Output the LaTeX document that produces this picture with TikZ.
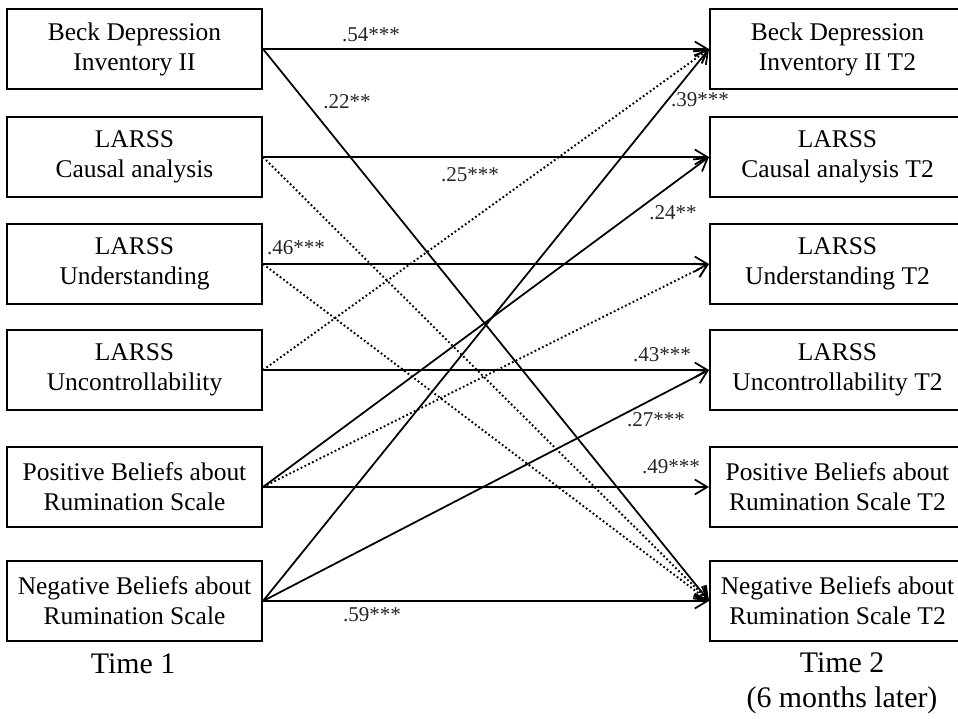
\documentclass[tikz,border=0pt]{standalone}
\usepackage{fontspec}
\setmainfont{Liberation Serif}
\usetikzlibrary{arrows.meta}

\tikzset{
	varbox/.style={draw, line width=1.2pt, minimum width=5.1cm, minimum height=1.6cm, inner sep=0pt, align=center, font=\fontsize{14.5}{17}\selectfont},
	effect/.style={line width=1pt, -{Straight Barb[length=2.5mm,width=3mm]}},
	nseffect/.style={effect, line width=1.1pt, dash pattern=on 1pt off 1.4pt},
	coef/.style={inner sep=0pt, text=black!85, font=\fontsize{12}{14}\selectfont},
	timelabel/.style={inner sep=0pt, align=center, font=\fontsize{17}{20}\selectfont}
}

\begin{document}
\begin{tikzpicture}[x=0.02cm, y=-0.02cm]
			%%%%% START %%%%%
			
			\useasboundingbox (0, 0) rectangle (958, 718);
			\clip (0, 0) rectangle (958, 718);
			
			% Time 1
			\node[varbox] (bdi1) at (134.5, 49) {Beck Depression\\Inventory II};
			\node[varbox] (cau1) at (134.5, 157) {LARSS\\Causal analysis};
			\node[varbox] (und1) at (134.5, 264) {LARSS\\Understanding};
			\node[varbox] (unc1) at (134.5, 370) {LARSS\\Uncontrollability};
			\node[varbox] (pos1) at (134.5, 487) {Positive Beliefs about\\Rumination Scale};
			\node[varbox] (neg1) at (134.5, 601) {Negative Beliefs about\\Rumination Scale};
			\node[timelabel, anchor=base] (time1) at (133, 673) {Time 1};
			
			% Time 2
			\node[varbox] (bdi2) at (837.5, 49) {Beck Depression\\Inventory II T2};
			\node[varbox] (cau2) at (837.5, 157) {LARSS\\Causal analysis T2};
			\node[varbox] (und2) at (837.5, 264) {LARSS\\Understanding T2};
			\node[varbox] (unc2) at (837.5, 370) {LARSS\\Uncontrollability T2};
			\node[varbox] (pos2) at (837.5, 487) {Positive Beliefs about\\Rumination Scale T2};
			\node[varbox] (neg2) at (837.5, 601) {Negative Beliefs about\\Rumination Scale T2};
			\node[timelabel] (time2) at (842, 683) {Time 2\\(6 months later)};
			
			% paths
			\draw[effect] (bdi1.east) -- (bdi2.west);
			\draw[effect] (bdi1.east) -- (neg2.west);
			\draw[effect] (cau1.east) -- (cau2.west);
			\draw[nseffect] (cau1.east) -- (neg2.west);
			\draw[effect] (und1.east) -- (und2.west);
			\draw[nseffect] (und1.east) -- (neg2.west);
			\draw[nseffect] (unc1.east) -- (bdi2.west);
			\draw[effect] (unc1.east) -- (unc2.west);
			\draw[effect] (pos1.east) -- (cau2.west);
			\draw[nseffect] (pos1.east) -- (und2.west);
			\draw[effect] (pos1.east) -- (pos2.west);
			\draw[effect] (neg1.east) -- (bdi2.west);
			\draw[effect] (neg1.east) -- (unc2.west);
			\draw[effect] (neg1.east) -- (neg2.west);
			
			% coefficients
			\node[coef] (c54) at (371, 35) {.54***};
			\node[coef] (c22) at (347, 102) {.22**};
			\node[coef] (c25) at (470, 175) {.25***};
			\node[coef] (c46) at (296, 248) {.46***};
			\node[coef] (c39) at (700, 100) {.39***};
			\node[coef] (c24) at (673, 213) {.24**};
			\node[coef] (c43) at (662, 355) {.43***};
			\node[coef] (c27) at (656, 420) {.27***};
			\node[coef] (c49) at (671, 467) {.49***};
			\node[coef] (c59) at (372, 615) {.59***};
			
			%%%%% END %%%%%
		\end{tikzpicture}
\end{document}
